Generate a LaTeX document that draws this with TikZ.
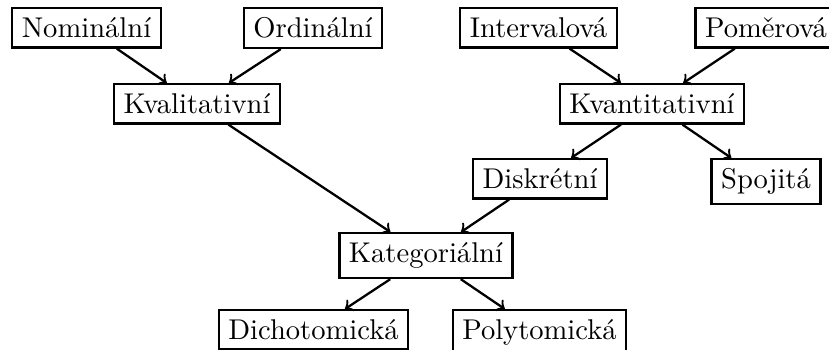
\documentclass[tikz,border=0pt]{standalone}
\usepackage{fontspec}
\usepackage{tikz}
\usetikzlibrary{arrows,positioning}

\begin{document}
\begin{tikzpicture}[x=0.35pt,y=-0.35pt]
\tikzstyle{typ}=[rectangle,draw,thick,anchor=north]
\tikzstyle{sipka}=[->,thick]
\useasboundingbox (0,0) rectangle (829,349);
% horni rada
\node[typ] (nomin) at (86.5,7) {Nominální};
\node[typ] (ordin) at (313,7) {Ordinální};
\node[typ] (inter) at (538.5,7) {Intervalová};
\node[typ] (pomer) at (766,7) {Poměrová};
% kvalitativni / kvantitativni
\node[typ] (kval) at (197,83) {Kvalitativní};
\node[typ] (kvant) at (652,83) {Kvantitativní};
\node[typ] (diskr) at (540,158) {Diskrétní};
\node[typ] (spoj) at (766,158) {Spojitá};
\node[typ] (kateg) at (426,232) {Kategoriální};
\node[typ] (dicho) at (313.5,309) {Dichotomická};
\node[typ] (poly) at (539.5,309) {Polytomická};
\draw[sipka] (nomin) -- (kval);
\draw[sipka] (ordin) -- (kval);
\draw[sipka] (inter) -- (kvant);
\draw[sipka] (pomer) -- (kvant);
\draw[sipka] (kvant) -- (diskr);
\draw[sipka] (kvant) -- (spoj);
\draw[sipka] (kval) -- (kateg);
\draw[sipka] (diskr) -- (kateg);
\draw[sipka] (kateg) -- (dicho);
\draw[sipka] (kateg) -- (poly);
\end{tikzpicture}
\end{document}
